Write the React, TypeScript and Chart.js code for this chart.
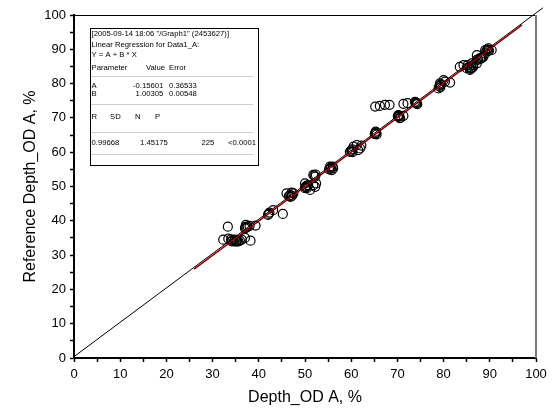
import { useEffect, useRef } from "react";
import { Chart, registerables } from "chart.js";

Chart.register(...registerables);

// Measured depth (x) and reference depth (y), in %
const depthOD = [
  32.3, 33.4, 34.1, 34.3, 34.6, 34.8, 35.0, 35.3, 35.6, 35.9, 36.3, 37.0, 38.2, 34.0, 35.2,
  33.3,
  37.2, 37.0, 37.3, 37.6, 39.3, 38.0, 37.1,
  42.0, 42.3, 42.1, 43.1, 45.2,
  46.8, 47.1, 46.0, 46.9, 47.2, 46.5, 47.5,
  50.0, 50.4, 51.1, 51.8, 52.2, 52.4, 50.2, 50.3, 50.1, 52.0, 52.3, 50.7, 52.2, 50.0, 51.8,
  55.4, 56.1, 55.8, 55.5, 55.6, 56.0, 55.2,
  60.1, 61.5, 59.7, 60.5, 61.2, 61.9, 60.0, 60.3, 60.2, 62.2,
  65.2, 65.3, 65.1, 65.4, 65.5,
  65.2, 66.2, 67.3, 68.3,
  70.2, 71.3, 70.6, 70.3, 70.1, 70.5, 70.4,
  71.3, 72.2,
  74.2, 73.8, 74.1, 74.3, 74.0,
  79.2, 80.3, 81.4, 79.2, 80.0, 78.9, 79.3, 79.1, 79.4,
  83.5, 84.3, 85.0, 86.1, 86.4, 85.7, 85.2, 86.1, 86.4, 87.2, 85.8, 86.0, 85.5,
  87.2, 88.2, 87.2, 88.6, 87.9, 88.0, 88.3, 87.5,
  89.0, 89.7, 90.4, 89.0, 89.7, 89.5, 89.8, 89.3,
];

const referenceDepth = [
  34.5, 34.8, 34.0, 34.2, 34.0, 34.5, 34.1, 34.3, 34.0, 34.2, 34.5, 35.0, 34.2, 34.6, 33.9,
  38.3,
  38.8, 37.8, 38.0, 38.3, 38.6, 38.5, 38.2,
  41.7, 42.4, 42.0, 43.1, 42.0,
  47.5, 48.2, 48.0, 47.0, 47.3, 47.2, 48.0,
  50.9, 49.5, 49.0, 50.4, 52.9, 50.9, 49.8, 50.2, 49.9, 53.2, 53.5, 50.4, 49.9, 49.5, 53.4,
  55.8, 55.3, 54.8, 55.2, 55.5, 55.8, 55.0,
  60.2, 60.6, 60.1, 61.6, 62.1, 61.1, 60.5, 60.0, 60.8, 61.9,
  65.5, 66.0, 65.3, 65.7, 65.2,
  73.3, 73.5, 73.8, 73.8,
  70.8, 70.6, 69.9, 70.3, 70.5, 70.0, 70.6,
  74.1, 74.3,
  74.2, 74.7, 74.4, 74.0, 74.5,
  80.1, 80.6, 80.3, 79.6, 81.0, 78.6, 79.0, 79.3, 79.8,
  84.9, 85.4, 84.5, 85.9, 84.9, 84.0, 85.4, 84.5, 85.4, 85.9, 84.3, 84.6, 84.8,
  88.3, 87.4, 86.9, 87.8, 87.4, 87.2, 87.6, 87.0,
  89.8, 90.3, 89.8, 88.8, 89.8, 90.0, 89.5, 89.7,
];

// Linear regression Y = A + B * X
const fitIntercept = -0.15601;
const fitSlope = 1.00305;
const fitRange = [26, 97];

// Reference guide line
const guideX = [0, 101.5];
const guideY = [0.4, 102.1];

// Axis ticks (every 5, labelled every 10)
const tickLabels = ["0", "10", "20", "30", "40", "50", "60", "70", "80", "90", "100"];

// Regression report lines
const reportHeader = [
  '[2005-09-14 18:06 "/Graph1" (2453627)]',
  "Linear Regression for Data1_A:",
  "Y = A + B * X",
];
const paramHeader = ["Parameter", "Value", "Error"];
const paramRows = [
  ["A", "-0.15601", "0.36533"],
  ["B", "1.00305", "0.00548"],
];
const statHeader = ["R", "SD", "N", "P"];
const statRow = ["0.99668", "1.45175", "225", "<0.0001"];

const FONT = "'Liberation Sans', Arial, sans-serif";

const framePlugin = {
  id: "frameAndReport",
  afterDatasetsDraw(chart: any) {
    const { ctx, chartArea } = chart;
    const { left, right, top, bottom } = chartArea;
    ctx.save();
    // top and right frame
    ctx.strokeStyle = "#000";
    ctx.lineWidth = 1;
    ctx.beginPath();
    ctx.moveTo(left, top + 0.5);
    ctx.lineTo(right, top + 0.5);
    ctx.stroke();
    ctx.strokeStyle = "#7a7a7a";
    ctx.lineWidth = 2;
    ctx.beginPath();
    ctx.moveTo(right, top);
    ctx.lineTo(right, bottom);
    ctx.stroke();

    // report box
    const bx = 90.5, by = 28.5, bw = 168, bh = 137;
    ctx.fillStyle = "#fff";
    ctx.fillRect(bx, by, bw, bh);
    ctx.strokeStyle = "#000";
    ctx.lineWidth = 1;
    ctx.strokeRect(bx, by, bw, bh);

    ctx.fillStyle = "#000";
    ctx.font = `7.7px ${FONT}`;
    ctx.textBaseline = "middle";
    ctx.textAlign = "left";
    const lx = 91.5;
    const headerY = [34, 44.5, 55];
    reportHeader.forEach((t, i) => ctx.fillText(t, lx, headerY[i]));

    ctx.fillText(paramHeader[0], lx, 68);
    ctx.fillText(paramHeader[1], 146, 68);
    ctx.fillText(paramHeader[2], 169, 68);
    const rowY = [86, 93.5];
    const valueX = [133, 135.6];
    paramRows.forEach((r, i) => {
      ctx.fillText(r[0], lx, rowY[i]);
      ctx.fillText(r[1], valueX[i], rowY[i]);
      ctx.fillText(r[2], 169, rowY[i]);
    });

    const statX = [lx, 110, 135, 155];
    statHeader.forEach((t, i) => ctx.fillText(t, statX[i], 117));
    const valX = [lx, 140, 201.5, 228];
    statRow.forEach((t, i) => ctx.fillText(t, valX[i], 143));

    // dotted separators
    ctx.strokeStyle = "#9a9a9a";
    ctx.lineWidth = 1;
    ctx.setLineDash([1, 1]);
    [76.5, 104.5, 132.5, 154.5].forEach((y) => {
      ctx.beginPath();
      ctx.moveTo(lx, y);
      ctx.lineTo(253, y);
      ctx.stroke();
    });
    ctx.restore();
  },
};

export default function App() {
  const canvasRef = useRef<HTMLCanvasElement | null>(null);

  useEffect(() => {
    const canvas = canvasRef.current;
    if (!canvas) return;

    const points = depthOD.map((x, i) => ({ x, y: referenceDepth[i] }));
    const fitLine = fitRange.map((x) => ({ x, y: fitIntercept + fitSlope * x }));
    const guide = guideX.map((x, i) => ({ x, y: guideY[i] }));

    const tickCallback = (v: any) => {
      const idx = tickLabels.indexOf(String(v));
      return idx >= 0 ? tickLabels[idx] : "";
    };

    const axisCommon = {
      type: "linear" as const,
      min: 0,
      max: 100,
      grid: {
        drawOnChartArea: false,
        drawTicks: true,
        tickLength: 4,
        tickColor: "#000",
        tickWidth: 1.5,
      },
      border: { display: true, color: "#000", width: 2 },
    };

    const chart = new Chart(canvas, {
      type: "scatter",
      data: {
        datasets: [
          {
            data: points,
            borderColor: "#000",
            backgroundColor: "rgba(0,0,0,0)",
            pointRadius: 4.5,
            pointBorderWidth: 1.2,
            pointStyle: "circle",
            showLine: false,
            order: 3,
          },
          {
            data: guide,
            showLine: true,
            borderColor: "#000",
            borderWidth: 1,
            pointRadius: 0,
            clip: false,
            order: 2,
          } as any,
          {
            data: fitLine,
            showLine: true,
            borderColor: "#8b0000",
            borderWidth: 1.5,
            pointRadius: 0,
            order: 1,
          },
        ],
      },
      options: {
        animation: false,
        responsive: false,
        maintainAspectRatio: false,
        layout: { padding: { top: 15, right: 16, left: 0, bottom: 0 } },
        plugins: { legend: { display: false }, tooltip: { enabled: false } },
        scales: {
          x: {
            ...axisCommon,
            afterFit: (s: any) => {
              s.height = 54;
            },
            ticks: {
              stepSize: 5,
              autoSkip: false,
              maxRotation: 0,
              padding: 5,
              color: "#000",
              font: { family: FONT, size: 13 },
              callback: tickCallback,
            },
            title: {
              display: true,
              text: "Depth_OD A, %",
              color: "#000",
              font: { family: FONT, size: 16 },
              padding: { top: 0, bottom: 5 },
            },
          },
          y: {
            ...axisCommon,
            afterFit: (s: any) => {
              s.width = 74;
            },
            ticks: {
              stepSize: 5,
              autoSkip: false,
              padding: 4,
              color: "#000",
              font: { family: FONT, size: 13 },
              callback: tickCallback,
            },
            title: {
              display: true,
              text: "Reference Depth_OD A, %",
              color: "#000",
              font: { family: FONT, size: 16 },
              padding: { top: 21, bottom: 0 },
            },
          },
        },
      },
      plugins: [framePlugin],
    });

    return () => chart.destroy();
  }, []);

  return (
    <div style={{ position: "absolute", left: 0, top: 0, width: 552, height: 412, background: "#fff" }}>
      <canvas ref={canvasRef} width={552} height={412} style={{ width: 552, height: 412 }} />
    </div>
  );
}
